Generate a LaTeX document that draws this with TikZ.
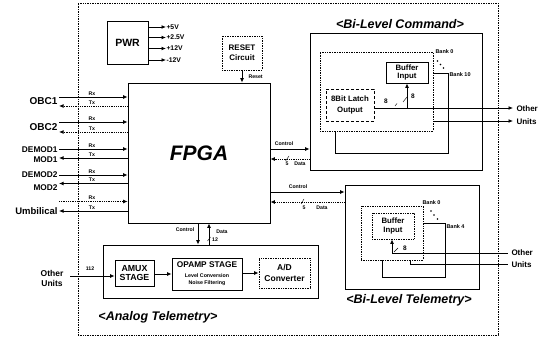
\documentclass[tikz,border=0pt]{standalone}
\usepackage{fontspec}
\setmainfont{Liberation Sans}
\usetikzlibrary{arrows.meta}
\newcommand{\fsz}[1]{\fontsize{#1}{#1}\selectfont}
\begin{document}
\begin{tikzpicture}[x=1pt,y=-1pt,
  box/.style={draw, line width=0.7pt, inner sep=0pt, align=center, font=\bfseries\fsz{7.8}, fill=white},
  dbox/.style={box, densely dotted},
  arr/.style={-{Latex[length=4.5pt,width=3.8pt]}, line width=0.8pt},
  ln/.style={line width=0.8pt},
  tiny/.style={font=\bfseries\fsz{5.2}, inner sep=0.3pt},
  sig/.style={font=\bfseries\fsz{10}, inner sep=0.3pt, anchor=east},
  ssig/.style={font=\bfseries\fsz{8.3}, inner sep=0.3pt, anchor=east},
  ttl/.style={font=\bfseries\itshape\fsz{12.5}, inner sep=0pt},
  unit/.style={font=\bfseries\fsz{8}, inner sep=0.3pt, anchor=west},
  volt/.style={font=\bfseries\fsz{6.8}, inner sep=0.3pt, anchor=west},
  bank/.style={font=\bfseries\fsz{5.5}, inner sep=0.3pt, anchor=west},
  eight/.style={font=\bfseries\fsz{6.5}, inner sep=0pt},
]
\useasboundingbox (0,0) rectangle (546,339);
\fill[white] (0,0) rectangle (546,339);
% outer frame
\node[draw, densely dotted, line width=0.7pt, minimum width=420, minimum height=332, inner sep=0] (frame) at (288,169) {};

% PWR
\node[box, font=\bfseries\fsz{10.5}, minimum width=41, minimum height=43] (pwr) at (127.5,42.5) {PWR};
\node[volt] (v1) at (166,27) {+5V};
\node[volt] (v2) at (166,37.5) {+2.5V};
\node[volt] (v3) at (166,48.5) {+12V};
\node[volt] (v4) at (166,60) {-12V};
\foreach \v in {v1,v2,v3,v4} \draw[arr] (pwr.east |- \v.west) -- (\v.west);

% RESET
\node[dbox, font=\bfseries\fsz{8}, minimum width=40, minimum height=34] (reset) at (242,53) {RESET\\[2pt]Circuit};

% FPGA
\node[box, font=\bfseries\itshape\fsz{21}, minimum width=142, minimum height=140] (fpga) at (199,153) {FPGA};
\draw[arr] (reset.south) -- (reset.south |- fpga.north);
\node[tiny, anchor=west] (rstl) at (248,77) {Reset};

% left signals
\node[sig] (obc1) at (58,101) {OBC1};
\node[sig] (obc2) at (58,127) {OBC2};
\node[ssig] (dem1) at (58,150) {DEMOD1};
\node[ssig] (mod1) at (58,159.5) {MOD1};
\node[ssig] (dem2) at (58,175) {DEMOD2};
\node[ssig] (mod2) at (58,188) {MOD2};
\node[sig, font=\bfseries\fsz{9.5}] (umb) at (58,211) {Umbilical};

\coordinate (a1) at (59,97);   \coordinate (b1) at (59,106);
\coordinate (a2) at (59,122);  \coordinate (b2) at (59,132);
\coordinate (a3) at (59,149);  \coordinate (b3) at (59,158);
\coordinate (a4) at (59,175);  \coordinate (b4) at (59,183.5);
\coordinate (a5) at (59,201.5);\coordinate (b5) at (59,211);
\draw[arr] (a1) -- (a1 -| fpga.west);
\draw[arr, densely dotted] (b1 -| fpga.west) -- (b1);
\draw[arr] (a2) -- (a2 -| fpga.west);
\draw[arr, densely dotted] (b2 -| fpga.west) -- (b2);
\draw[arr] (a3) -- (a3 -| fpga.west);
\draw[arr] (b3 -| fpga.west) -- (b3);
\draw[arr] (a4) -- (a4 -| fpga.west);
\draw[arr] (b4 -| fpga.west) -- (b4);
\draw[arr, densely dotted] (a5) -- (a5 -| fpga.west);
\draw[arr] (b5 -| fpga.west) -- (b5);
\foreach \n/\y in {r1/93.5,r2/118.5,r3/145.5,r4/171.5,r5/197.5} \node[tiny] (\n) at (92,\y) {Rx};
\foreach \n/\y in {t1/102.5,t2/128.5,t3/154.5,t4/180,t5/207.5} \node[tiny] (\n) at (92,\y) {Tx};

% Bi-Level Command
\node[ttl] (cmdt) at (400,24) {<Bi-Level Command>};
\node[box, fill=none, minimum width=172, minimum height=137] (cmd) at (396,101.5) {};
\node[box, minimum width=113, minimum height=80] (bk10) at (391.5,113) {};
\node[dbox, minimum width=113, minimum height=79] (bk0) at (376.5,91.5) {};
\node[box, minimum width=42, minimum height=21] (cbuf) at (407,72.5) {Buffer\\[1pt]Input};
\node[box, densely dashed, minimum width=48, minimum height=32] (latch) at (350,105) {8Bit Latch\\[3pt]Output};
\node[bank] (bk0l) at (435,52) {Bank 0};
\node[bank] (bk10l) at (449,75) {Bank 10};
\foreach \p in {(437.5,61),(440.5,64.5),(443.5,68)} \fill \p circle (0.9);
\node[unit] (coth) at (516,109) {Other};
\node[unit] (cuni) at (516,122) {Units};
\coordinate (cj) at (407,108);
\draw[arr] (latch.east |- cj) -- ([xshift=-3pt]coth.west |- cj);
\draw[arr] (cj) -- (cbuf.south);
\coordinate (cq) at (433,121);
\draw[arr] (bk0.east |- cq) -- ([xshift=-3pt]cuni.west |- cq);
\draw[line width=0.4pt] (403,102) -- (407,97);
\node[eight] (c8a) at (413,96) {8};
\node[eight] (c8b) at (386,101) {8};
\draw[line width=0.4pt] (395,106) -- (397,103.5);

\coordinate (k1) at (0,149);
\coordinate (k2) at (0,159);
\draw[arr] (fpga.east |- k1) -- (cmd.west |- k1);
\draw[arr, densely dotted] (cmd.west |- k2) -- (fpga.east |- k2);
\node[tiny] (ctl1) at (284,144) {Control};
\draw[line width=0.4pt] (285.5,161) -- (289,156);
\node[tiny] (n5a) at (287,164) {5};
\node[tiny] (dat1) at (300,164) {Data};

% Bi-Level Telemetry
\node[box, minimum width=134, minimum height=104] (tel) at (412,237) {};
\node[box, minimum width=63, minimum height=54] (bk4) at (413.5,250) {};
\node[dbox, minimum width=62, minimum height=54] (tbk0) at (392,233) {};
\node[dbox, minimum width=42, minimum height=26] (tbuf) at (393,226) {Buffer\\[2pt]Input};
\node[bank] (tbk0l) at (422,203) {Bank 0};
\node[bank] (tbk4l) at (446,226.5) {Bank 4};
\foreach \p in {(431,211),(434,215),(437.5,219)} \fill \p circle (0.9);
\node[ttl] (telt) at (409,300) {<Bi-Level Telemetry>};
\node[unit] (toth) at (511,253) {Other};
\node[unit] (tuni) at (511,264.5) {Units};
\coordinate (tj) at (392,253);
\draw[arr] (tj) -- (tj |- tbuf.south);
\draw[ln] (tj) -- ([xshift=-3pt]toth.west |- tj);
\coordinate (tq) at (410,264);
\draw[ln] (tq |- tbk0.south) -- (tq) -- ([xshift=-3pt]tuni.west |- tq);
\draw[line width=0.4pt] (394,252) -- (398,248);
\node[eight] (t8) at (405,248) {8};

\coordinate (k3) at (0,192);
\coordinate (k4) at (0,202);
\draw[arr] (fpga.east |- k3) -- (tel.west |- k3);
\draw[arr, densely dotted] (tel.west |- k4) -- (fpga.east |- k4);
\node[tiny] (ctl2) at (298,187) {Control};
\draw[line width=0.4pt] (301,204) -- (304,199);
\node[tiny] (n5b) at (304,207.5) {5};
\node[tiny] (dat2) at (322,207.5) {Data};

% Analog Telemetry
\node[box, fill=none, minimum width=215, minimum height=53] (ana) at (210.5,271.5) {};
\node[box, font=\bfseries\fsz{8.8}, minimum width=39, minimum height=26] (amux) at (134.5,273) {AMUX\\[1pt]STAGE};
\node[box, minimum width=70, minimum height=32] (opamp) at (207,274) {{\fsz{8.3}OPAMP STAGE}\\[1.5pt]{\fsz{5.3}Level Conversion}\\[0pt]{\fsz{5.3}Noise Filtering}};
\node[dbox, font=\bfseries\fsz{8.5}, minimum width=51, minimum height=30] (adc) at (284.5,273) {A/D\\[2pt]Converter};
\draw[arr] (amux.east |- 0,274) -- (opamp.west |- 0,274);
\draw[arr] (opamp.east |- 0,273) -- (adc.west |- 0,273);
\node[font=\bfseries\fsz{8.5}, align=center, inner sep=0] (aoth) at (52,278.5) {Other\\[2pt]Units};
\coordinate (ao) at (70,276);
\draw[arr] (ao) -- (ao -| amux.west);
\node[tiny] (n112) at (90,268.5) {112};
\coordinate (dc) at (198,0);
\coordinate (dd) at (209,0);
\draw[arr] (dc |- fpga.south) -- (dc |- ana.north);
\draw[arr] (dd |- ana.north) -- (dd |- fpga.south);
\node[tiny] (ctl3) at (185,230) {Control};
\node[tiny] (dat3) at (222,232) {Data};
\node[tiny] (n12) at (215,239.5) {12};
\draw[line width=0.4pt] (207.5,241) -- (210.5,237);
\node[ttl] (anat) at (158,317) {<Analog Telemetry>};
\end{tikzpicture}
\end{document}
